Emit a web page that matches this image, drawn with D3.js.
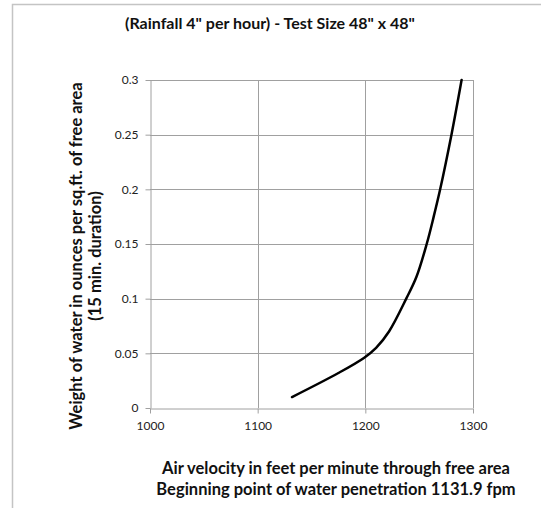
<!DOCTYPE html>
<html><head><meta charset="utf-8">
<script src="https://cdn.jsdelivr.net/npm/d3@7"></script>
<style>body{margin:0;background:#fff;}svg{display:block;font-family:Lato, "Open Sans", sans-serif;}</style>
</head><body><svg id="c" width="541" height="508"></svg>
<script>
const velocity = [1131.9, 1175, 1199, 1210, 1222, 1238, 1247.5, 1257, 1263.5, 1269.5, 1280, 1289.4];
const weight   = [0.01, 0.032, 0.046, 0.055, 0.07, 0.10, 0.12, 0.15, 0.175, 0.20, 0.25, 0.30];
const xTicks = [1000, 1100, 1200, 1300];
const yTicks = [0, 0.05, 0.1, 0.15, 0.2, 0.25, 0.3];
const title = '(Rainfall 4" per hour) - Test Size 48" x 48"';
const xTitle = ["Air velocity in feet per minute through free area", "Beginning point of water penetration  1131.9 fpm"];
const yTitle = ["Weight of water in ounces per sq.ft. of free area", "(15 min. duration)"];

const svg = d3.select("#c");
const x = d3.scaleLinear().domain([1000, 1300]).range([150, 473]);
const y = d3.scaleLinear().domain([0, 0.3]).range([408, 80]);

// chart border
svg.append("path").attr("d", "M12.5,508 L12.5,4.5 L541,4.5").attr("fill", "none").attr("stroke", "#c4c4c4").attr("stroke-width", 1.5);

// gridlines
svg.append("g").selectAll("line").data(yTicks.slice(1)).join("line")
  .attr("x1", x(1000)).attr("x2", x(1300)).attr("y1", d => Math.round(y(d)) + 0.5).attr("y2", d => Math.round(y(d)) + 0.5)
  .attr("stroke", "#a0a0a0");
svg.append("g").selectAll("line").data(xTicks.slice(1)).join("line")
  .attr("y1", y(0)).attr("y2", y(0.3)).attr("x1", d => Math.round(x(d)) + 0.5).attr("x2", d => Math.round(x(d)) + 0.5)
  .attr("stroke", "#a0a0a0");

// axes
const yAxis = svg.append("g").attr("transform", `translate(${Math.round(x(1000)) + 0.5},0)`)
  .call(d3.axisLeft(y).tickValues(yTicks).tickSize(5).tickSizeOuter(0).tickPadding(7).tickFormat(d => String(d)));
const xAxis = svg.append("g").attr("transform", `translate(0,${Math.round(y(0)) + 0.5})`)
  .call(d3.axisBottom(x).tickValues(xTicks).tickSize(5).tickSizeOuter(0).tickPadding(5).tickFormat(d => String(d)));
[yAxis, xAxis].forEach(a => {
  a.select(".domain").attr("stroke", "#a0a0a0");
  a.selectAll(".tick line").attr("stroke", "#a0a0a0");
  a.selectAll("text").attr("fill", "#222").style("font-size", "12px").style("font-family", "Lato, sans-serif");
});
xAxis.selectAll("text").attr("dy", "0.95em");

// curve
const pts = velocity.map((v, i) => [v, weight[i]]);
svg.append("path").datum(pts)
  .attr("d", d3.line().x(d => x(d[0])).y(d => y(d[1])).curve(d3.curveCatmullRom.alpha(0.5)))
  .attr("fill", "none").attr("stroke", "#000").attr("stroke-width", 2.5).attr("stroke-linecap", "round");

// titles
const bold = s => s.style("font-size", "16px").style("font-weight", "bold").attr("fill", "#111");
svg.append("text").attr("x", 270).attr("y", 29).attr("text-anchor", "middle").call(bold).text(title);
svg.append("g").selectAll("text").data(xTitle).join("text")
  .attr("x", 336).attr("y", (d, i) => 473.5 + i * 21.5).attr("text-anchor", "middle")
  .call(bold).style("font-size", "16.5px").text(d => d);
svg.append("g").selectAll("text").data(yTitle).join("text")
  .attr("transform", (d, i) => `translate(${82 + i * 19},256) rotate(-90)`).attr("text-anchor", "middle")
  .call(bold).style("font-size", "16.5px").text(d => d);
</script></body></html>
